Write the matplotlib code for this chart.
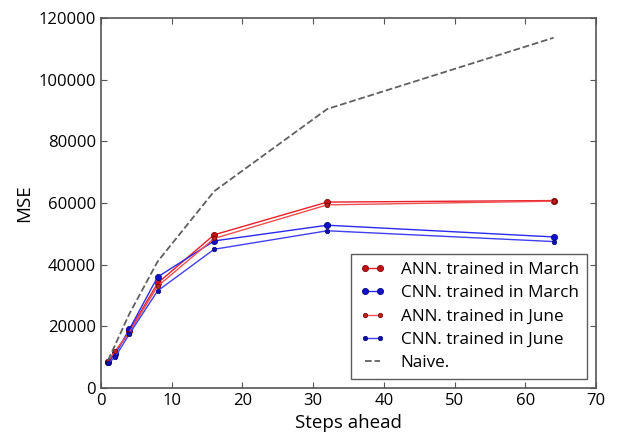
import matplotlib
matplotlib.use('Agg')
import matplotlib.pyplot as plt

steps = [1, 2, 4, 8, 16, 32, 64]
ann_march = [8500, 11500, 18500, 34000, 49700, 60300, 60800]
cnn_march = [8300, 11000, 19000, 36000, 47700, 52800, 49000]
ann_june = [8800, 12000, 18000, 33000, 48500, 59400, 60600]
cnn_june = [8000, 10000, 17500, 31500, 45000, 51000, 47500]
naive = [9000, 14000, 24000, 41000, 63800, 90500, 113600]

plt.rcParams['font.family'] = ['Open Sans', 'DejaVu Sans']

fig = plt.figure(figsize=(6.17, 4.33), dpi=100)
ax = fig.add_axes([0.1637, 0.1039, 0.8023, 0.8545])

ax.plot(steps, ann_march, '-o', color='#e8202a', lw=1.0, ms=4.5,
        mfc='#c01010', mec='#700000', mew=0.5, label='ANN. trained in March')
ax.plot(steps, cnn_march, '-o', color='#2a2af0', lw=1.0, ms=4.5,
        mfc='#1010c8', mec='#000070', mew=0.5, label='CNN. trained in March')
ax.plot(steps, ann_june, '-o', color='#f05050', lw=1.0, ms=3.2,
        mfc='#c02020', mec='#700000', mew=0.5, label='ANN. trained in June')
ax.plot(steps, cnn_june, '-o', color='#4040f0', lw=1.0, ms=3.2,
        mfc='#1010b0', mec='#000070', mew=0.5, label='CNN. trained in June')
ax.plot(steps, naive, '--', color='#606060', lw=1.3, label='Naive.')

ax.set_xlim(0, 70)
ax.set_ylim(0, 120000)
ax.set_xticks(range(0, 71, 10))
ax.set_yticks(range(0, 120001, 20000))
ax.tick_params(direction='in', top=True, right=True, labelsize=12, length=4,
               color='#555555')
for s in ax.spines.values():
    s.set_color('#555555')
    s.set_linewidth(1.2)

ax.set_xlabel('Steps ahead', fontsize=13.5)
ax.set_ylabel('MSE', fontsize=13.5)

leg = ax.legend(loc='lower right', numpoints=2, fontsize=12.3, fancybox=False,
                borderaxespad=0.5, handlelength=1.5, handletextpad=0.9,
                labelspacing=0.42, borderpad=0.5)
leg.get_frame().set_edgecolor('#333333')

fig.savefig('out.png', dpi=100)
